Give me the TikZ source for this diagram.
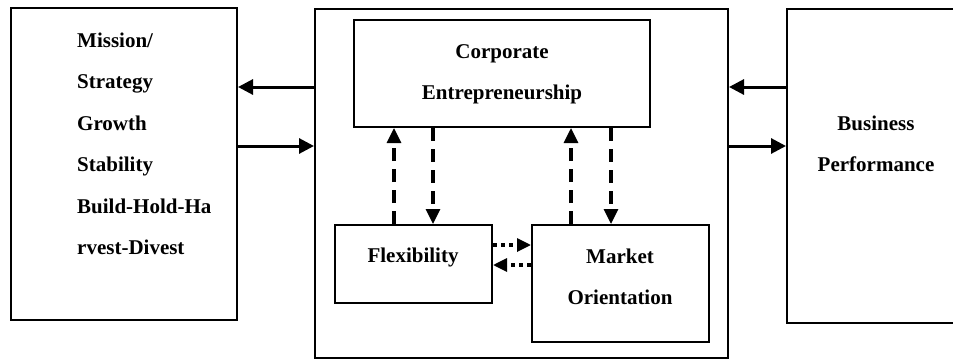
\documentclass[tikz,border=0pt]{standalone}
\usepackage{fontspec}
\setmainfont{Liberation Serif}
\usetikzlibrary{arrows.meta}
\begin{document}
\begin{tikzpicture}[x=1pt,y=-1pt,
  box/.style={draw,line width=2pt,inner sep=0pt},
  txt/.style={inner sep=0pt,font=\fontsize{21}{24}\selectfont\bfseries},
  solidarrow/.style={line width=3pt,-{Triangle[length=15pt,width=15pt]}},
  dasharrow/.style={line width=3.2pt,dash pattern=on 13pt off 8pt,-{Triangle[length=15pt,width=14pt]}},
  dotarrow/.style={line width=3.2pt,dash pattern=on 4pt off 4pt,-{Triangle[length=14pt,width=13pt]}}]
\useasboundingbox (0,0) rectangle (953,359);
% boxes
\node[box,minimum width=226pt,minimum height=312pt] (left) at (124,164) {};
\node[box,minimum width=413pt,minimum height=349pt] (mid) at (521.5,183.5) {};
\node[box,minimum width=180pt,minimum height=314pt] (right) at (877,166) {};
\node[box,minimum width=296pt,minimum height=107pt] (corp) at (502,73.5) {};
\node[box,minimum width=157pt,minimum height=78pt] (flex) at (413.5,264) {};
\node[box,minimum width=177pt,minimum height=117pt] (mkt) at (620.5,283.5) {};
% texts
\node[txt,anchor=base west] (l1) at (77,47) {Mission/};
\node[txt,anchor=base west] (l2) at (77,88.5) {Strategy};
\node[txt,anchor=base west] (l3) at (77,130) {Growth};
\node[txt,anchor=base west] (l4) at (77,171.5) {Stability};
\node[txt,anchor=base west] (l5) at (77,213) {Build-Hold-Ha};
\node[txt,anchor=base west] (l6) at (77,254.5) {rvest-Divest};
\node[txt,anchor=base] (c1) at (502,58) {Corporate};
\node[txt,anchor=base] (c2) at (502,99) {Entrepreneurship};
\node[txt,anchor=base] (f1) at (413,262) {Flexibility};
\node[txt,anchor=base] (m1) at (620,263) {Market};
\node[txt,anchor=base] (m2) at (620,304) {Orientation};
\node[txt,anchor=base] (b1) at (876,130) {Business};
\node[txt,anchor=base] (b2) at (876,171) {Performance};
% solid arrows
\draw[solidarrow] (mid.west |- 0,87) -- (left.east |- 0,87);
\draw[solidarrow] (left.east |- 0,146) -- (mid.west |- 0,146);
\draw[solidarrow] (right.west |- 0,87) -- (mid.east |- 0,87);
\draw[solidarrow] (mid.east |- 0,146) -- (right.west |- 0,146);
% dashed arrows
\draw[dasharrow] (flex.north -| 394,0) -- (corp.south -| 394,0);
\draw[dasharrow] (corp.south -| 433,0) -- (flex.north -| 433,0);
\draw[dasharrow] (mkt.north -| 571,0) -- (corp.south -| 571,0);
\draw[dasharrow] (corp.south -| 611,0) -- (mkt.north -| 611,0);
% dotted arrows
\draw[dotarrow] (flex.east |- 0,245) -- (mkt.west |- 0,245);
\draw[dotarrow] (mkt.west |- 0,265) -- (flex.east |- 0,265);
\end{tikzpicture}
\end{document}
